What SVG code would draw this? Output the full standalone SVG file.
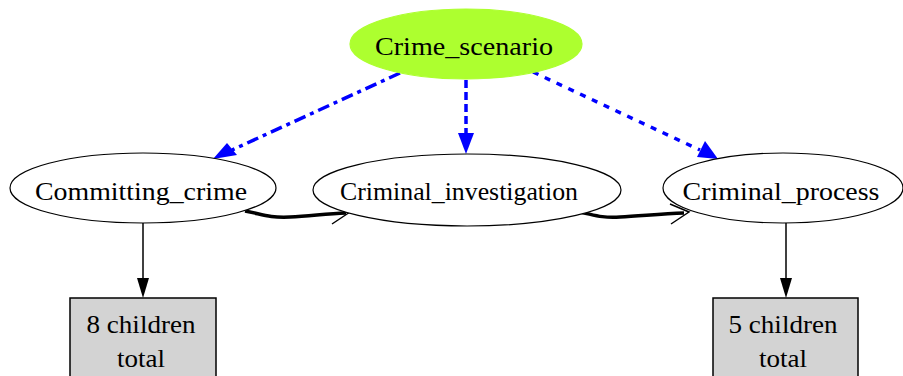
<svg xmlns="http://www.w3.org/2000/svg" width="903" height="376" viewBox="0 0 903 376">
<style>
text{font-family:"Liberation Serif","Times New Roman",serif;font-size:26px;fill:#000;text-anchor:middle}
.node ellipse{stroke:#000;stroke-width:1.2;fill:#fff}
.box rect{stroke:#000;stroke-width:1.5;fill:#d3d3d3}
.blue{stroke:#0000ff;stroke-width:3.5;fill:none}
.blk{stroke:#000;fill:none}
</style>
<defs>
<marker id="ab" markerWidth="8" markerHeight="8" refX="7" refY="4" orient="auto" markerUnits="userSpaceOnUse" viewBox="0 0 8 8"><path d="M0,0 L8,4 L0,8 Z" fill="#0000ff"/></marker>
</defs>
<rect width="903" height="376" fill="#fff"/>
<g id="connectors">
  <path class="blue" d="M400,73 L232,150" stroke-dasharray="12,5,4,5"/>
  <path d="M213,159 L227,143 L237,155 Z" fill="#0000ff"/>
  <path class="blue" d="M466,80 L466,134" stroke-dasharray="8,4"/>
  <path d="M466,154 L458,133 L474,133 Z" fill="#0000ff"/>
  <path class="blue" d="M533,72 L700,150" stroke-dasharray="6,7"/>
  <path d="M718,159 L697,157 L705,141 Z" fill="#0000ff"/>
  <path class="blk" d="M143,223 L143,280" stroke-width="1.5"/>
  <path d="M143,298 L137,278 L149,278 Z" fill="#000"/>
  <path class="blk" d="M786,223 L786,280" stroke-width="1.5"/>
  <path d="M786,298 L780,278 L792,278 Z" fill="#000"/>
  <path class="blk" d="M245,211 C262,214 268,218 290,217 C310,216 325,214 346,213" stroke-width="3.5"/>
  <path class="blk" d="M331,204 L350,212 L332,224" stroke-width="1.5"/>
  <path class="blk" d="M580,212 C595,215 600,218 620,217 C640,216 660,214 684,213" stroke-width="3.5"/>
  <path class="blk" d="M670,204 L689,212 L671,224" stroke-width="1.5"/>
</g>
<g id="crime_scenario" class="node">
  <ellipse cx="466" cy="44" rx="116" ry="35" fill="#adff2f" stroke="#adff2f" style="fill:#adff2f;stroke:#adff2f"/>
  <text x="464" y="55" textLength="178" lengthAdjust="spacingAndGlyphs">Crime_scenario</text>
</g>
<g id="committing_crime" class="node">
  <ellipse cx="143" cy="188" rx="133" ry="35"/>
  <text x="141" y="200" textLength="212" lengthAdjust="spacingAndGlyphs">Committing_crime</text>
</g>
<g id="criminal_investigation" class="node">
  <ellipse cx="467" cy="190" rx="154" ry="36"/>
  <text x="459" y="200" textLength="238" lengthAdjust="spacingAndGlyphs">Criminal_investigation</text>
</g>
<g id="criminal_process" class="node">
  <ellipse cx="783" cy="188" rx="120" ry="35"/>
  <text x="781" y="200" textLength="197" lengthAdjust="spacingAndGlyphs">Criminal_process</text>
</g>
<g id="box8" class="box">
  <rect x="70" y="298" width="146" height="100"/>
  <text x="141" y="333" textLength="109" lengthAdjust="spacingAndGlyphs">8 children</text>
  <text x="141" y="367" textLength="48" lengthAdjust="spacingAndGlyphs">total</text>
</g>
<g id="box5" class="box">
  <rect x="713" y="298" width="145" height="100"/>
  <text x="783" y="333" textLength="109" lengthAdjust="spacingAndGlyphs">5 children</text>
  <text x="783" y="367" textLength="48" lengthAdjust="spacingAndGlyphs">total</text>
</g>
</svg>
